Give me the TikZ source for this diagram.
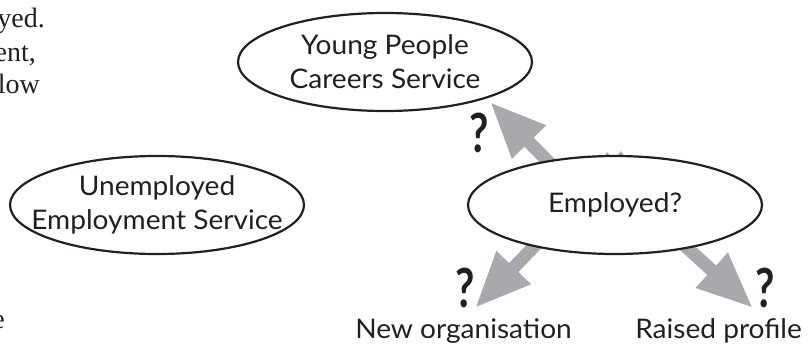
\documentclass[tikz,border=0pt]{standalone}
\usepackage{fontspec}
\setmainfont{Liberation Serif}
\newfontfamily\labelfont[FakeStretch=1.04]{Lato}
\newfontfamily\queryfont[FakeStretch=0.78]{Lato}
\usetikzlibrary{shapes.geometric,arrows.meta,backgrounds}
\definecolor{ink}{HTML}{231F20}
\definecolor{arrowgrey}{HTML}{A7A9AC}

\begin{document}
\begin{tikzpicture}[x=1pt,y=-1pt,
  bubble/.style={ellipse, draw=ink, line width=2.2pt, fill=white,
    minimum width=294pt, minimum height=98pt, inner xsep=-24pt, inner ysep=0pt,
    align=center, text=ink, font=\labelfont\fontsize{27}{34}\selectfont},
  outcome/.style={text=ink, inner sep=0pt, font=\labelfont\fontsize{27}{34}\selectfont},
  query/.style={text=ink, inner sep=0pt, anchor=base,
    font=\queryfont\bfseries\fontsize{54}{54}\selectfont},
  flow/.style={draw=arrowgrey, line width=13pt,
    -{Triangle[width=44pt,length=56pt,fill=arrowgrey]}},
  prose/.style={text=ink, inner sep=0pt, anchor=base east,
    font=\fontsize{28}{33}\selectfont}
]
\useasboundingbox (0,0) rectangle (810,343);
\clip (0,0) rectangle (810,343);

% trailing lines of the surrounding paragraph
\node[prose] (p1) at (45,27) {oyed.};
\node[prose] (p2) at (36,61) {ent,};
\node[prose] (p3) at (40,93) {low};
\node[prose] (p4) at (5,328) {e};

% the three services
\node[bubble] (careers) at (385,62) {Young People\\Careers Service};
\node[bubble] (unemp) at (157,205) {Unemployed\\Employment Service};
\node[bubble] (employed) at (615,205) {Employed?};

% where the arrows leave the "Employed?" bubble and where they point
\coordinate (e-up) at (568,182);
\coordinate (e-left) at (544,236);
\coordinate (e-right) at (683,244);
\coordinate (to-careers) at (490,102);
\coordinate (to-neworg) at (475,308);
\coordinate (to-profile) at (753,308);

\begin{scope}[on background layer]
  \draw[flow] (e-up) -- (to-careers);
  \draw[flow] (e-left) -- (to-neworg);
  \draw[flow] (e-right) -- (to-profile);
  % barbs of a tip tucked under the bubble
  \fill[arrowgrey] (600,163) -- (607,152) -- (614,160) -- (621,151) -- (628,163) -- cycle;
\end{scope}

% destinations
\node[outcome, anchor=base east] (neworg) at (572,338) {New organisation};
\node[outcome, anchor=base east] (profile) at (802,338) {Raised profile};

% open questions
\node[query] (q1) at (479,152) {?};
\node[query] (q2) at (465,307) {?};
\node[query] (q3) at (765,307) {?};
\end{tikzpicture}
\end{document}
